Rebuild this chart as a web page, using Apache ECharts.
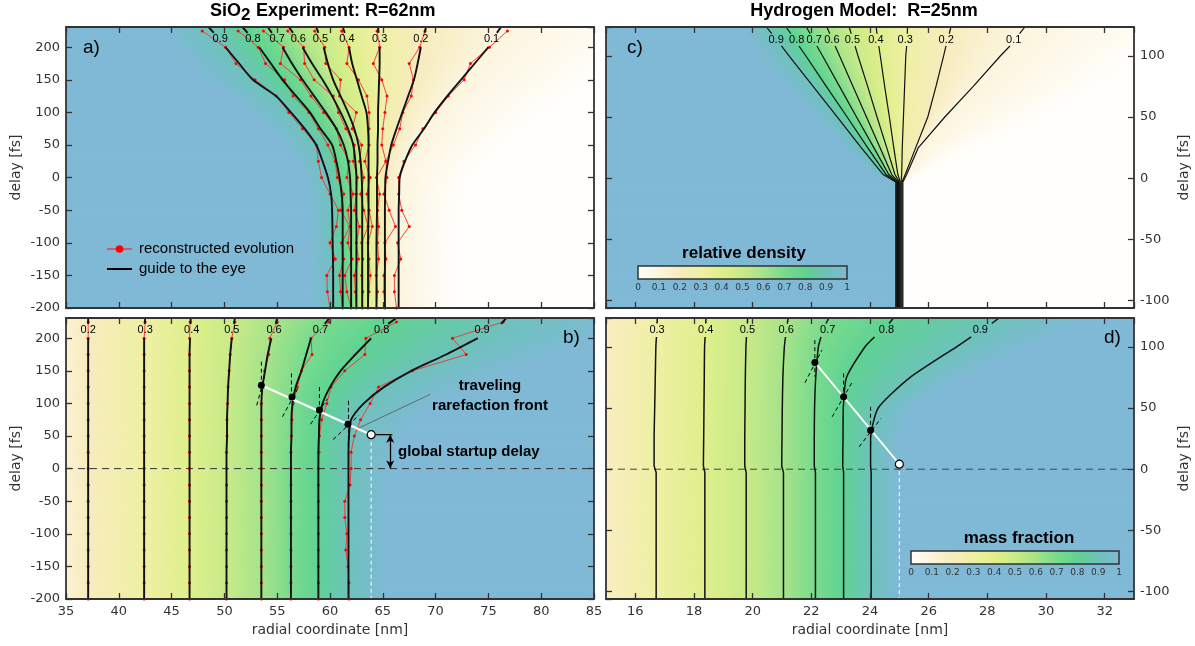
<!DOCTYPE html>
<html><head><meta charset="utf-8">
<script src="https://cdn.jsdelivr.net/npm/echarts@6/dist/echarts.min.js"></script>
<style>html,body{margin:0;padding:0;background:#fff}#c{width:1195px;height:646px}</style>
</head><body><div id="c"></div>
<script>
// ---------------- DATA ----------------
// colormap (value -> colour)
const cmapStops  = [0, 0.1, 0.2, 0.3, 0.4, 0.5, 0.6, 0.7, 0.8, 0.9, 1.0];
const cmapColors = ['#fffefb','#fcf5de','#f7ecbd','#eef0a4','#dfef8c','#c8ea88','#a6e38a','#78db8d','#5fd293','#6dc2bb','#7fb9d6'];

// Panel a : SiO2 relative density contours (nm at each delay)
const levelsA = ['0.9','0.8','0.7','0.6','0.5','0.4','0.3','0.2','0.1'];
const delaysA = [-200,-150,-100,-50,-25,0,25,50,75,100,125,150,175,200,222,231];
const guideA09 = [60.3,60.3,60.25,60.2,60.1,59.8,59.3,58.7,57.6,56.3,54.9,52.7,51.4,50.1,49.0,48.5];
const guideA08 = [61.2,61.2,61.2,61.2,61.1,60.9,60.6,60.2,59.1,58.1,56.8,55.5,54.4,53.3,52.2,51.7];
const guideA07 = [62.0,62.0,62.0,62.0,61.95,61.9,61.7,61.3,60.6,59.6,58.5,57.4,56.4,55.5,54.5,54.1];
const guideA06 = [62.5,62.5,62.5,62.5,62.5,62.5,62.4,62.2,61.7,61.0,60.2,59.3,58.3,57.4,56.5,56.1];
const guideA05 = [63.05,63.05,63.05,63.05,63.05,63.0,62.9,62.7,62.3,61.7,61.0,60.3,59.8,59.4,58.9,58.7];
const guideA04 = [63.6,63.6,63.6,63.65,63.65,63.65,63.65,63.65,63.6,63.45,63.0,62.55,62.1,61.8,61.4,61.2];
const guideA03 = [64.4,64.4,64.4,64.45,64.45,64.45,64.5,64.5,64.55,64.55,64.6,64.65,64.7,64.7,64.6,64.55];
const guideA02 = [65.2,65.2,65.2,65.2,65.22,65.25,65.5,65.8,66.3,66.85,67.4,67.95,68.3,68.6,68.95,69.1];
const guideA01 = [66.5,66.5,66.5,66.5,66.55,66.6,67.1,67.8,68.9,69.9,71.1,72.4,73.7,75.0,75.8,76.2];
const delaysRedA = [225,200,175,150,125,100,75,50,25,0,-25,-50,-75,-100,-125,-150,-175,-200];
const redA09 = [47.9,50.1,51.1,52.9,54.9,56.1,57.4,58.7,58.9,59.2,60.0,60.8,60.6,60.0,60.5,59.7,59.75,60.0];
const redA08 = [51.3,53.2,53.9,55.7,56.5,58.0,58.9,59.8,60.5,60.7,61.3,61.0,61.9,61.1,61.3,60.9,61.0,61.2];
const redA07 = [53.7,55.6,55.3,57.2,58.2,59.4,60.6,61.0,61.8,61.6,62.2,61.7,61.9,61.7,62.1,61.4,61.6,62.0];
const redA06 = [56.0,57.5,57.6,58.5,60.3,60.8,61.5,62.3,62.2,62.6,62.5,62.3,62.8,62.5,62.7,62.3,62.4,62.5];
const redA05 = [58.55,59.5,59.6,61.0,60.9,62.5,62.1,63.0,62.8,63.2,62.9,63.2,63.6,63.0,63.1,63.0,63.1,63.05];
const redA04 = [61.1,61.8,61.6,62.7,63.5,63.7,63.7,63.7,63.3,63.8,63.5,63.7,64.0,63.6,63.7,63.8,63.7,63.6];
const redA03 = [64.45,64.7,64.1,64.9,65.4,65.2,65.0,64.9,65.3,64.4,64.7,64.5,64.6,64.5,64.6,64.4,64.5,64.4];
const redA02 = [69.0,68.5,67.5,67.9,67.7,66.9,66.6,66.0,65.3,65.4,65.1,65.6,66.2,65.2,65.3,65.1,65.1,65.2];
const redA01 = [76.8,75.1,73.3,72.7,71.2,70.0,68.8,68.1,67.0,66.5,66.5,66.8,67.5,66.4,66.7,66.1,66.1,66.3];
const labelA_nm = [49.6,52.7,55.0,57.0,59.1,61.6,64.7,68.6,75.3];
const labelA_delay = 212;

// Panel b : SiO2 mass fraction contours
const levelsB = ['0.2','0.3','0.4','0.5','0.6','0.7','0.8','0.9'];
const delaysB = [-200,-100,0,25,50,75,100,125,150,175,200,222,231];
const guideB02 = [37.1,37.1,37.1,37.1,37.1,37.1,37.1,37.1,37.1,37.1,37.1,37.1,37.1];
const guideB03 = [42.4,42.4,42.4,42.4,42.4,42.4,42.4,42.4,42.4,42.4,42.4,42.45,42.5];
const guideB04 = [46.7,46.7,46.7,46.7,46.7,46.7,46.7,46.7,46.7,46.7,46.75,46.8,46.8];
const guideB05 = [50.2,50.2,50.2,50.2,50.25,50.25,50.3,50.35,50.45,50.55,50.7,50.9,51.0];
const guideB06 = [53.5,53.5,53.5,53.5,53.5,53.5,53.5,53.6,53.85,54.1,54.45,54.85,55.0];
const guideB07 = [56.3,56.3,56.3,56.3,56.35,56.35,56.45,56.75,57.3,57.75,58.2,59.5,59.95];
const guideB08 = [58.9,58.9,58.9,58.9,58.95,59.0,59.3,60.0,61.0,62.4,63.9,65.5,66.3];
const guideB09 = [61.75,61.75,61.75,61.75,61.8,62.0,63.2,65.1,67.7,71.0,74.0,76.2,76.7];
const delaysRedB = [225,200,175,150,125,100,75,50,25,0,-25,-50,-75,-100,-125,-150,-175,-200];
const redB02 = [37.1,37.1,37.1,37.1,37.1,37.1,37.1,37.1,37.1,37.1,37.1,37.1,37.1,37.1,37.1,37.1,37.1,37.1];
const redB03 = [42.5,42.4,42.4,42.4,42.4,42.4,42.4,42.4,42.4,42.4,42.4,42.4,42.4,42.4,42.4,42.4,42.4,42.4];
const redB04 = [46.75,46.7,46.7,46.7,46.7,46.7,46.7,46.7,46.7,46.7,46.7,46.7,46.7,46.7,46.7,46.7,46.7,46.7];
const redB05 = [51.0,50.7,50.55,50.45,50.35,50.3,50.25,50.25,50.2,50.2,50.2,50.2,50.2,50.2,50.2,50.2,50.2,50.2];
const redB06 = [55.0,54.3,54.2,53.8,53.6,53.5,53.5,53.5,53.5,53.5,53.5,53.5,53.5,53.5,53.5,53.5,53.5,53.5];
const redB07 = [59.9,58.2,58.3,57.3,56.9,56.5,56.4,56.35,56.3,56.3,56.3,56.3,56.3,56.3,56.3,56.3,56.3,56.3];
const redB08 = [66.3,63.4,63.3,61.4,60.1,59.7,59.2,59.0,58.95,58.9,58.9,58.9,58.9,58.9,58.9,58.9,58.9,58.9];
const redB09 = [76.4,71.6,72.9,67.8,64.6,63.8,62.9,62.3,62.0,62.0,61.9,61.4,61.4,61.6,61.5,61.7,61.8,61.8];
const labelB_nm = [37.1,42.5,46.9,50.7,54.7,59.1,64.9,74.4];
const labelB_delay = 213;
const frontB = [[53.5,128],[56.4,110],[59.0,90],[61.7,68]];
const startB = [63.9,52];
const tangentVB = [[[53.5,164],[53.5,120]],[[56.35,146],[56.35,106]],[[59.0,125],[59.0,70]],[[61.75,104],[61.75,36]]];
const tangentTB = [[[53.06,97],[53.8,141]],[[55.5,79.5],[56.96,123]],[[58.16,68],[59.75,107]],[[60.3,44.6],[62.75,82]]];
const arrowB = [[65.7,52],[65.7,0]];
const bracketB = [[63.9,52],[65.9,52]];
const pointerB = [[69.5,114],[62.7,62]];
const textFrontB = [75.15,111];
const textDelayB = [66.44,26];

// Panel c : hydrogen model relative density
const levelsC = ['0.9','0.8','0.7','0.6','0.5','0.4','0.3','0.2','0.1'];
const delaysC = [-106,-3,3,25,50,75,100,108,118,123.5];
const guideC09 = [24.88,24.88,24.45,23.70,22.88,22.06,21.24,20.98,20.65,20.47];
const guideC08 = [24.91,24.91,24.55,23.92,23.22,22.51,21.81,21.58,21.30,21.14];
const guideC07 = [24.94,24.94,24.64,24.13,23.54,22.96,22.38,22.19,21.96,21.83];
const guideC06 = [24.97,24.97,24.74,24.34,23.88,23.42,22.96,22.81,22.63,22.53];
const guideC05 = [25.00,25.00,24.85,24.57,24.24,23.92,23.59,23.49,23.36,23.29];
const guideC04 = [25.03,25.03,24.95,24.81,24.66,24.50,24.35,24.30,24.24,24.21];
const guideC03 = [25.06,25.06,25.08,25.10,25.14,25.18,25.22,25.25,25.27,25.28];
const guideC02 = [25.09,25.09,25.20,25.56,25.97,26.25,26.51,26.59,26.70,26.76];
const guideC01 = [25.12,25.12,25.25,25.65,26.55,27.52,28.45,28.77,29.10,29.28];
const labelC_nm = [20.8,21.5,22.1,22.7,23.4,24.2,25.2,26.6,28.9];
const labelC_delay = 113;

// Panel d : hydrogen model mass fraction
const levelsD = ['0.3','0.4','0.5','0.6','0.7','0.8','0.9'];
const delaysD = [-106,-3,3,25,50,75,100,108,119,123.5];
const guideD03 = [16.71,16.71,16.64,16.64,16.66,16.68,16.70,16.72,16.74,16.75];
const guideD04 = [18.37,18.37,18.32,18.33,18.34,18.35,18.36,18.38,18.40,18.41];
const guideD05 = [19.78,19.78,19.73,19.73,19.74,19.75,19.77,19.79,19.82,19.83];
const guideD06 = [21.05,21.05,20.99,21.00,21.01,21.03,21.08,21.12,21.18,21.21];
const guideD07 = [22.14,22.14,22.10,22.10,22.11,22.15,22.24,22.33,22.50,22.60];
const guideD08 = [23.10,23.10,23.07,23.08,23.09,23.20,23.83,24.15,24.65,24.80];
const guideD09 = [24.04,24.04,24.02,24.02,24.28,25.37,26.95,27.45,28.15,28.40];
const labelD_nm = [16.74,18.4,19.82,21.14,22.56,24.56,27.76];
const labelD_delay = 113.6;
const frontD = [[22.12,87.2],[23.1,59.1],[24.02,31.9]];
const startD = [25.0,4.1];
const tangentVD = [[[22.12,105.4],[22.12,75.5]],[[23.1,78.2],[23.1,56.4]],[[24.02,51],[24.02,18.3]]];
const tangentTD = [[[21.78,70.6],[22.36,97.3]],[[22.71,42.8],[23.4,71.4]],[[23.63,18.3],[24.37,41.4]]];

// axis ticks
const xTicksAB = {min:35, max:85, interval:5};
const yTicksAB = {min:-200, max:231, interval:50};
const xTicksCD = {min:15, max:33, splitNumber:9};
const yTicksCD = {min:-106, max:123.5, splitNumber:5};

// ---------------- HELPERS ----------------
function rgbOf(h){const n=parseInt(h.slice(1),16);return [(n>>16)&255,(n>>8)&255,n&255];}
const cmapRGB = cmapColors.map(rgbOf);
function cmap(v){
  v=Math.max(0,Math.min(1,v)); let i=0;
  while(i<cmapStops.length-2 && v>cmapStops[i+1]) i++;
  const t=(v-cmapStops[i])/(cmapStops[i+1]-cmapStops[i]);
  const a=cmapRGB[i], b=cmapRGB[i+1];
  return 'rgb('+a.map((c,k)=>Math.round(c+(b[k]-c)*t)).join(',')+')';
}
const lerpP=(p,q,t)=>[p[0]+(q[0]-p[0])*t, p[1]+(q[1]-p[1])*t];
// edge transition widths (px) given per delay node, blended within a slab
function fieldSeries(xi, yi, delays, contours, levels, edge){
  const nb=contours.length+1, items=[];
  for(let s=0;s<delays.length-1;s++) for(let b=0;b<nb;b++) items.push([edge.xmin, delays[s], s, b]);
  const wAt=(w,s,t)=>Array.isArray(w)?(w[s]+(w[s+1]-w[s])*t):w;
  const lv=levels.map(Number);
  return {type:'custom', xAxisIndex:xi, yAxisIndex:yi, z:1, silent:true, clip:true, data:items,
    encode:{x:0,y:1},
    renderItem:function(params, api){
      const s=api.value(2), b=api.value(3);
      const d0=delays[s], d1=delays[s+1];
      const lx0=b===0?edge.xmin:contours[b-1][s], lx1=b===0?edge.xmin:contours[b-1][s+1];
      const rx0=b===nb-1?edge.xmax:contours[b][s], rx1=b===nb-1?edge.xmax:contours[b][s+1];
      const L0=api.coord([lx0,d0]), L1=api.coord([lx1,d1]), R1=api.coord([rx1,d1]), R0=api.coord([rx0,d0]);
      const n=Math.max(1, Math.ceil(Math.abs(L1[1]-L0[1])/3));
      const children=[];
      for(let k=0;k<n;k++){
        const t0=k/n, t1=(k+1)/n, tm=(t0+t1)/2;
        const a0=lerpP(L0,L1,t0), a1=lerpP(L0,L1,t1), b1=lerpP(R0,R1,t1), b0=lerpP(R0,R1,t0);
        const ym=(a0[1]+a1[1])/2, lm=(a0[0]+a1[0])/2, rm=(b0[0]+b1[0])/2;
        let g0,g1,c0,c1;
        if(b===0){g1=rm; g0=g1-wAt(edge.leftW,s,tm); c0=cmap(edge.leftLevel); c1=cmap(lv[0]);}
        else if(b===nb-1){g0=lm; g1=g0+wAt(edge.rightW,s,tm); c0=cmap(lv[nb-2]); c1=cmap(edge.rightLevel);}
        else {g0=lm; g1=rm; c0=cmap(lv[b-1]); c1=cmap(lv[b]);}
        if(g1-g0<0.5) g1=g0+0.5;
        const grad={type:'linear',x:g0,y:ym,x2:g1,y2:ym,global:true,colorStops:[{offset:0,color:c0},{offset:1,color:c1}]};
        children.push({type:'polygon', shape:{points:[a0,a1,b1,b0]}, style:{fill:grad, stroke:grad, lineWidth:1}});
      }
      return {type:'group', children};
    }};
}
function guideSeries(xi, yi, delays, xs, lo, hi, width, smooth){
  const main=[], stub=[];
  delays.forEach((d,i)=>{ if(d<=lo) main.push([xs[i],d]); if(d>=hi) stub.push([xs[i],d]); });
  const base={type:'line', xAxisIndex:xi, yAxisIndex:yi, symbol:'none', silent:true, z:4,
    lineStyle:{color:'#111', width:width}};
  return [Object.assign({}, base, {data:main, smooth:smooth}), Object.assign({}, base, {data:stub})];
}
function redSeries(xi, yi, delays, xs){
  return {type:'line', xAxisIndex:xi, yAxisIndex:yi, data:delays.map((d,i)=>[xs[i],d]),
    symbol:'circle', symbolSize:3, showSymbol:true, silent:true, z:3,
    lineStyle:{color:'#ee3333', width:0.9}, itemStyle:{color:'#ff0000'}};
}
function seg(xi, yi, pts, style, z){
  return {type:'line', xAxisIndex:xi, yAxisIndex:yi, data:pts, symbol:'none', silent:true, z:z||5, lineStyle:style};
}
function textSeries(xi, yi, items, font, align){
  return {type:'custom', xAxisIndex:xi, yAxisIndex:yi, z:10, silent:true, clip:false,
    data:items.map((it,i)=>[it[0],it[1],i]),
    renderItem:function(p, api){
      const c=api.coord([api.value(0),api.value(1)]);
      return {type:'text', x:c[0], y:c[1], style:{text:items[api.value(2)][2], fill:'#000', font:font,
        align:align||'center', textAlign:align||'center', verticalAlign:'middle', textVerticalAlign:'middle', lineHeight:20}};
    }};
}
function dotSeries(xi, yi, pts, size, fill, border){
  return {type:'scatter', xAxisIndex:xi, yAxisIndex:yi, data:pts, symbol:'circle', symbolSize:size, silent:true, z:7,
    itemStyle:{color:fill, borderColor:border||fill, borderWidth:border?1.2:0, opacity:1}};
}

// ---------------- AXES ----------------
const tickStyle = {show:true, inside:true, length:6, lineStyle:{color:'#333', width:1.3}};
const lineStyleAx = {show:true, onZero:false, lineStyle:{color:'#333', width:1.8}};
function mkAxis(gridIndex, position, ticks, showLabel, hideMin, hideMax, extra){
  const ax = {type:'value', gridIndex, position, min:ticks.min, max:ticks.max, z:50,
    axisLine:lineStyleAx, axisTick:tickStyle, splitLine:{show:false},
    axisLabel:{show:showLabel, fontFamily:'DejaVu Sans', fontSize:13, color:'#333', margin:6,
      showMinLabel: hideMin ? false : null, showMaxLabel: hideMax ? false : null}};
  if(ticks.interval) ax.interval = ticks.interval; else ax.splitNumber = ticks.splitNumber;
  return Object.assign(ax, extra||{});
}
const nameX = {name:'radial coordinate [nm]', nameLocation:'middle', nameGap:24,
  nameTextStyle:{fontFamily:'DejaVu Sans', fontSize:14, color:'#333'}};
const nameY = {name:'delay [fs]', nameLocation:'middle', nameGap:43, nameRotate:90,
  nameTextStyle:{fontFamily:'DejaVu Sans', fontSize:14, color:'#333'}};
const cbarX = gi => ({type:'value', gridIndex:gi, min:0, max:1, interval:0.1, z:50,
  axisLine:{show:false}, axisTick:{show:false}, splitLine:{show:false},
  axisLabel:{fontFamily:'DejaVu Sans', fontSize:9, color:'#333', margin:4}});

const xAxes = [
  mkAxis(0,'bottom',xTicksAB,false), mkAxis(0,'top',xTicksAB,false),
  mkAxis(1,'bottom',xTicksAB,true,false,false,nameX), mkAxis(1,'top',xTicksAB,false),
  mkAxis(2,'bottom',xTicksCD,false,true,true), mkAxis(2,'top',xTicksCD,false,true,true),
  mkAxis(3,'bottom',xTicksCD,true,true,true,nameX), mkAxis(3,'top',xTicksCD,false,true,true),
  cbarX(4), cbarX(5)
];
const yAxes = [
  mkAxis(0,'left',yTicksAB,true,false,true,nameY), mkAxis(0,'right',yTicksAB,false,false,true),
  mkAxis(1,'left',yTicksAB,true,false,true,nameY), mkAxis(1,'right',yTicksAB,false,false,true),
  mkAxis(2,'left',yTicksCD,false,true,true), mkAxis(2,'right',yTicksCD,true,true,true,nameY),
  mkAxis(3,'left',yTicksCD,false,true,true), mkAxis(3,'right',yTicksCD,true,true,true,nameY),
  {type:'value', gridIndex:4, min:0, max:1, show:false},
  {type:'value', gridIndex:5, min:0, max:1, show:false}
];

// ---------------- SERIES ----------------
const series = [];
const contoursA=[guideA09,guideA08,guideA07,guideA06,guideA05,guideA04,guideA03,guideA02,guideA01];
const redsA=[redA09,redA08,redA07,redA06,redA05,redA04,redA03,redA02,redA01];
const contoursB=[guideB02,guideB03,guideB04,guideB05,guideB06,guideB07,guideB08,guideB09];
const redsB=[redB02,redB03,redB04,redB05,redB06,redB07,redB08,redB09];
const contoursC=[guideC09,guideC08,guideC07,guideC06,guideC05,guideC04,guideC03,guideC02,guideC01];
const contoursD=[guideD03,guideD04,guideD05,guideD06,guideD07,guideD08,guideD09];

series.push(fieldSeries(0,0,delaysA,contoursA,levelsA,{xmin:35,xmax:85,leftLevel:1.0,rightLevel:0.0,
  leftW:[22,22,22,22,22,24,28,32,36,40,44,47,50,50,50,50], rightW:[55,55,55,58,62,68,75,85,95,105,115,125,135,145,150,150]}));
series.push(fieldSeries(2,2,delaysB,contoursB,levelsB,{xmin:35,xmax:85,leftLevel:0.14,rightLevel:1.0,
  leftW:22, rightW:[40,40,42,48,55,65,75,85,95,105,115,120,120]}));
series.push(fieldSeries(4,4,delaysC,contoursC,levelsC,{xmin:15,xmax:33,leftLevel:1.0,rightLevel:0.0,
  leftW:[1,1,6,16,22,25,27,28,28,28], rightW:[1,1,12,50,90,120,135,140,150,150]}));
series.push(fieldSeries(6,6,delaysD,contoursD,levelsD,{xmin:15,xmax:33,leftLevel:0.19,rightLevel:1.0,
  leftW:50, rightW:[28,28,28,29,34,50,70,80,90,90]}));

redsA.forEach(r=>series.push(redSeries(0,0,delaysRedA,r)));
redsB.forEach(r=>series.push(redSeries(2,2,delaysRedB,r)));
contoursA.forEach(c=>series.push(...guideSeries(0,0,delaysA,c,200,222,1.9,0.25)));
contoursB.forEach(c=>series.push(...guideSeries(2,2,delaysB,c,200,222,1.9,0.25)));
contoursC.forEach(c=>series.push(...guideSeries(4,4,delaysC,c,108,118,1.2,0)));
contoursD.forEach(c=>series.push(...guideSeries(6,6,delaysD,c,108,119,1.5,0.2)));

// contour labels
const lblFont = '11px "Liberation Sans Narrow", "Liberation Sans", sans-serif';
series.push(textSeries(0,0,labelA_nm.map((x,i)=>[x,labelA_delay,levelsA[i]]),lblFont));
series.push(textSeries(2,2,labelB_nm.map((x,i)=>[x,labelB_delay,levelsB[i]]),lblFont));
series.push(textSeries(4,4,labelC_nm.map((x,i)=>[x,labelC_delay,levelsC[i]]),lblFont));
series.push(textSeries(6,6,labelD_nm.map((x,i)=>[x,labelD_delay,levelsD[i]]),lblFont));

// panel b annotations
const dashBlack = {color:'#000', width:1, type:[4,3]};
series.push(seg(2,2,[[35,0],[85,0]],{color:'#333',width:1,type:[7,5]},2));
tangentVB.forEach(t=>series.push(seg(2,2,t,dashBlack,6)));
tangentTB.forEach(t=>series.push(seg(2,2,t,dashBlack,6)));
series.push(seg(2,2,[frontB[0],startB],{color:'#fff',width:2.2},6));
series.push(seg(2,2,[startB,[startB[0],-200]],{color:'#fff',width:1,type:[4,3]},6));
series.push(seg(2,2,pointerB,{color:'#555',width:0.8},6));
series.push(seg(2,2,bracketB,{color:'#000',width:1.3},6));
series.push({type:'line', xAxisIndex:2, yAxisIndex:2, data:[], silent:true, z:6,
  markLine:{silent:true, symbol:['arrow','arrow'], symbolSize:[6,8], label:{show:false},
    lineStyle:{color:'#000', width:1.3, type:'solid'}, animation:false,
    data:[[{coord:arrowB[0]},{coord:arrowB[1]}]]}});
series.push(dotSeries(2,2,frontB,7,'#000'));
series.push(dotSeries(2,2,[startB],8,'#fff','#000'));
series.push(textSeries(2,2,[[textFrontB[0],textFrontB[1],'traveling\nrarefaction front']],'bold 15px "Liberation Sans", Arial, sans-serif'));
series.push(textSeries(2,2,[[textDelayB[0],textDelayB[1],'global startup delay']],'bold 15px "Liberation Sans", Arial, sans-serif','left'));

// panel d annotations
series.push(seg(6,6,[[15,0],[33,0]],{color:'#444',width:1,type:[7,5]},2));
tangentVD.forEach(t=>series.push(seg(6,6,t,dashBlack,6)));
tangentTD.forEach(t=>series.push(seg(6,6,t,dashBlack,6)));
series.push(seg(6,6,[frontD[0],startD],{color:'#fff',width:1.8},6));
series.push(seg(6,6,[startD,[startD[0],-106]],{color:'#fff',width:1,type:[4,3]},6));
series.push(dotSeries(6,6,frontD,7,'#000'));
series.push(dotSeries(6,6,[startD],8,'#fff','#000'));

// colour bars
function cbarSeries(xi, yi){
  return {type:'custom', xAxisIndex:xi, yAxisIndex:yi, z:20, silent:true, data:[[0,0]],
    renderItem:function(p, api){
      const a=api.coord([0,1]), b=api.coord([1,0]);
      return {type:'rect', shape:{x:a[0],y:a[1],width:b[0]-a[0],height:b[1]-a[1]},
        style:{fill:{type:'linear',x:0,y:0,x2:1,y2:0,colorStops:cmapStops.map((s,i)=>({offset:s,color:cmapColors[i]}))},
          stroke:'#333', lineWidth:1.5}};
    }};
}
series.push(cbarSeries(8,8));
series.push(cbarSeries(9,9));

// ---------------- GRAPHIC (titles, legend, panel letters) ----------------
const T = (x,y,text,font,align)=>({type:'text', x, y, z:100, silent:true,
  style:{text, font, fill:'#000', align:align||'left', textAlign:align||'left', verticalAlign:'middle', textVerticalAlign:'middle'}});
const titleFont = 'bold 18px "Liberation Sans", Arial, sans-serif';
const graphics = [
  T(241,11,'SiO',titleFont,'right'),
  T(241,15,'2','bold 17px "Liberation Sans", Arial, sans-serif','left'),
  T(251,11,' Experiment: R=62nm',titleFont,'left'),
  T(864,11,'Hydrogen Model:  R=25nm',titleFont,'center'),
  T(83,48,'a)','19px "Liberation Sans", Arial, sans-serif'),
  T(563,338,'b)','19px "Liberation Sans", Arial, sans-serif'),
  T(627,48,'c)','19px "Liberation Sans", Arial, sans-serif'),
  T(1104,338,'d)','19px "Liberation Sans", Arial, sans-serif'),
  {type:'line', z:100, silent:true, shape:{x1:107,y1:249,x2:132,y2:249}, style:{stroke:'#ff2020', lineWidth:1.2}},
  {type:'circle', z:101, silent:true, shape:{cx:119.5,cy:249,r:3.8}, style:{fill:'#ff0000'}},
  T(139,249,'reconstructed evolution','15px "Liberation Sans", Arial, sans-serif'),
  {type:'line', z:100, silent:true, shape:{x1:107,y1:269,x2:132,y2:269}, style:{stroke:'#000', lineWidth:2}},
  T(139,269,'guide to the eye','15px "Liberation Sans", Arial, sans-serif'),
  T(744,253,'relative density','bold 17px "Liberation Sans", Arial, sans-serif','center'),
  T(1019,538,'mass fraction','bold 17px "Liberation Sans", Arial, sans-serif','center')
];

const option = {
  animation:false, backgroundColor:'#ffffff',
  textStyle:{fontFamily:'DejaVu Sans'},
  grid:[
    {left:66, top:27, width:528, height:281, outerBoundsMode:'none'},
    {left:66, top:318, width:528, height:281, outerBoundsMode:'none'},
    {left:606, top:27, width:528, height:281, outerBoundsMode:'none'},
    {left:606, top:318, width:528, height:281, outerBoundsMode:'none'},
    {left:638, top:266, width:209, height:13, outerBoundsMode:'none'},
    {left:911, top:551, width:208, height:13, outerBoundsMode:'none'}
  ],
  xAxis:xAxes, yAxis:yAxes, series:series,
  graphic:{elements:graphics}
};
const chart = echarts.init(document.getElementById('c'), null, {renderer:'canvas', width:1195, height:646});
chart.setOption(option);
</script></body></html>
